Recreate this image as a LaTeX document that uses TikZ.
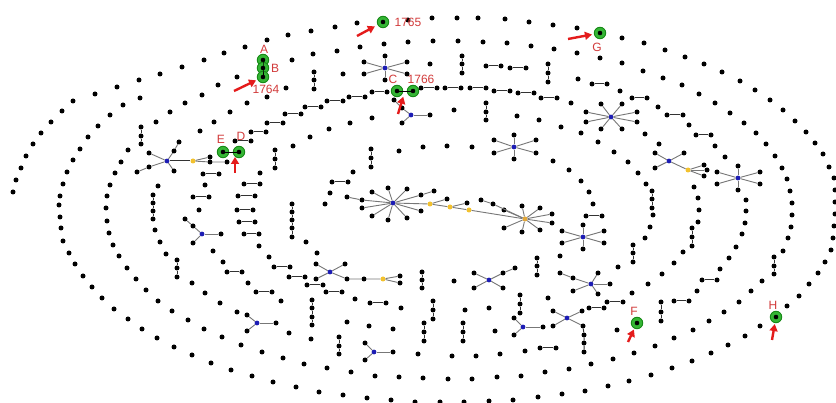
\documentclass[tikz,border=0pt]{standalone}
\usepackage{fontspec}
\setmainfont{Liberation Sans}
\usetikzlibrary{arrows.meta,calc}
\definecolor{hubblue}{HTML}{1C1CB4}
\definecolor{hubyellow}{HTML}{F2C12E}
\definecolor{hubamber}{HTML}{E2A73A}
\definecolor{hlgreen}{HTML}{35B535}
\definecolor{hldark}{HTML}{178A17}
\definecolor{pairgray}{HTML}{333333}
\definecolor{spokegray}{HTML}{777777}
\definecolor{lblred}{HTML}{D23B3B}
\definecolor{arrred}{HTML}{E41B1B}
\begin{document}
\begin{tikzpicture}[x=1pt,y=-1pt,
  dot/.style={circle,fill=black,inner sep=0pt,minimum size=5pt},
  hubb/.style={circle,fill=hubblue,inner sep=0pt,minimum size=4.8pt},
  huby/.style={circle,fill=hubyellow,inner sep=0pt,minimum size=5pt},
  hubo/.style={circle,fill=hubamber,inner sep=0pt,minimum size=5pt},
  hl/.style={circle,fill=hlgreen,draw=hldark,line width=0.9pt,inner sep=0pt,minimum size=11.5pt,
    path picture={\fill[black] (path picture bounding box.center) circle (2.3pt);}},
  pairedge/.style={draw=pairgray,line width=1pt},
  spoke/.style={draw=spokegray,line width=0.9pt},
  lbl/.style={text=lblred,font=\fontsize{12}{12}\selectfont,inner sep=0pt},
  pointer/.style={draw=arrred,line width=2.4pt,-{Triangle[length=7pt,width=8pt]}}
]
\fill[white] (0,0) rectangle (836,403);
\useasboundingbox (0,0) rectangle (836,403);

% ---------- outer spiral turn: isolated vertices ----------
\foreach \x/\y [count=\i] in {13/192,16/180,21/168,26/156,33/144,41/133,51/122,62/111,73/101,
  95/94,117/87,139/80,160/74,182/67,204/60,224/53,245/47,267/40,288/35,311/31,335/27,357/23,
  408/20,432/18,457/18,478/18,505/19,529/22,553/25,577/28,622/38,644/43,665/50,685/57,704/64,
  722/72,740/81,755/90,770/100,783/110,795/121,806/132,815/143,823/154,829/167,834/178,835/190,
  835/202,835/214,834/226,833/238,831/250,825/262,818/273,809/284,799/296,787/306,760/326,
  745/336,728/345,711/353,692/361,672/368,651/375,629/381,608/386,585/391,562/394,538/397,
  513/400,489/401,464/402,440/402,415/402,391/400,367/398,343/395,319/392,296/387,273/382,
  252/376,231/370,211/363,192/355,174/347,157/338,142/329,128/319,114/309,102/298,92/287,
  83/276,75/264,69/253,63/241}
  \node[dot] (ra\i) at (\x,\y) {};

% ---------- second turn ----------
\foreach \x/\y [count=\i] in {61/228,60/217,59/205,60/196,63/184,67/172,73/160,80/149,88/137,
  98/126,110/115,123/105,140/98,292/60,313/54,337/51,360/47,384/44,408/42,433/41,458/41,
  483/42,507/43,531/46,554/49,577/53,600/58,622/63,643/71,663/78,682/85,699/94,715/103,
  730/113,744/123,756/133,766/144,775/156,782/168,787/179,790/191,792/203,792/215,791/227,
  788/238,783/251,762/281,751/291,739/302,724/312,709/321,693/330,674/338,655/346,634/353,
  613/359,591/364,569/369,545/372,521/376,497/377,472/379,448/379,423/378,399/377,375/376,
  351/372,327/368,304/364,283/358,262/352,241/345,222/337,204/329,188/320,172/311,158/301,
  146/290,136/279,127/268,119/256,113/245}
  \node[dot] (rb\i) at (\x,\y) {};

% ---------- inner turns: isolated vertices ----------
\foreach \x/\y [count=\i] in {109/233,107/221,106/208,107/196,110/185,115/173,121/162,128/150,
  156/122,170/112,185/103,202/95,218/85,237/77,200/131,214/122,230/112,247/103,267/97,286/88,
  343/74,430/64,578/79,620/91,658/107,689/125,715/146,725/157,746/200,746/211,745/223,
  742/234,736/247,729/258,720/269,697/291,617/330,452/356,476/356,500/354,525/351,418/354,
  158/186,205/185,199/210,260/173,155/230,160/242,166/254,192/283,205/293,220/303,237/312,
  289/333,311/339,213/251,223/262,248/283,281/301,259/246,269/257,306/242,317/253,355/299,
  401/308,347/322,369/326,393/329,293/146,310/137,329/129,350/123,372/118,454/110,330/193,
  325/204,353/172,399/151,423/147,447/146,472/147,517/116,539/120,561/127,581/133,598/142,
  571/103,645/134,659/144,614/152,628/162,638/173,646/184,653/215,650/227,645/238,618/267,
  694/187,698/198,699/210,698/222,683/252,674/263,662/274,648/284,632/293,553/161,569/170,
  581/181,589/192,593/204,560/256,548/298,454/281,465/310,489/308,495/331}
  \node[dot] (rc\i) at (\x,\y) {};

% ---------- dyads ----------
\foreach \ax/\ay/\bx/\by [count=\i] in {235/141/251/141,251/132/266/132,267/123/283/123,
  285/114/301/114,305/107/321/107,327/101/343/101,349/97/365/97,372/92/387/92,421/88/437/88,
  445/88/461/88,470/88/486/88,494/91/510/91,518/93/534/93,541/98/557/98,486/66/501/66,
  510/68/526/68,592/84/607/84,632/98/647/98,667/115/683/115,696/135/711/135,702/280/717/280,
  674/301/689/301,607/302/623/302,589/308/604/308,540/348/556/348,586/216/602/216,
  203/174/219/174,193/197/209/197,244/184/260/184,238/196/255/196,237/210/253/210,
  239/222/255/222,244/234/259/234,227/272/242/272,256/292/272/292,274/267/290/267,
  289/277/305/277,307/285/323/285,326/292/342/292,370/303/386/303,332/182/348/182}
  {\node[dot] (pa\i) at (\ax,\ay) {};
   \node[dot] (pb\i) at (\bx,\by) {};
   \draw[pairedge] (pa\i) -- (pb\i);}

% ---------- vertical paths of three ----------
\foreach \x/\ya/\yb/\yc [count=\i] in {141/127/136/144,314/72/80/89,462/56/64/73,548/64/73/82,
  486/103/112/120,371/149/158/167,275/150/159/168,177/260/268/277,339/337/346/354,
  422/272/280/288,433/301/310/319,424/323/332/341,463/323/332/341,520/295/304/313,
  537/258/266/275,633/245/253/262,652/191/199/208,692/228/237/246,661/302/312/321,
  774/257/266/274}
  {\node[dot] (ta\i) at (\x,\ya) {};
   \node[dot] (tb\i) at (\x,\yb) {};
   \node[dot] (tc\i) at (\x,\yc) {};
   \draw[pairedge] (ta\i) -- (tb\i) -- (tc\i);}

% ---------- longer vertical paths ----------
\foreach \y [count=\i] in {195,203,211,219} \node[dot] (ka\i) at (153,\y) {};
\draw[pairedge] (ka1) -- (ka2) -- (ka3) -- (ka4);
\foreach \y [count=\i] in {204,212,220,228,237} \node[dot] (kb\i) at (292,\y) {};
\draw[pairedge] (kb1) -- (kb2) -- (kb3) -- (kb4) -- (kb5);
\foreach \y [count=\i] in {300,308,317,325} \node[dot] (kc\i) at (312,\y) {};
\draw[pairedge] (kc1) -- (kc2) -- (kc3) -- (kc4);

% ---------- stars ----------
\node[hubb] (s1) at (385,68) {};
\foreach \x/\y [count=\i] in {385/56,364/62,407/62,364/74,407/74,385/80}
  {\node[dot] (s1-\i) at (\x,\y) {}; \draw[spoke] (s1) -- (s1-\i);}
\node[hubb] (s2) at (611,117) {};
\foreach \x/\y [count=\i] in {586/112,586/122,601/104,622/104,637/112,637/122,601/129,622/129}
  {\node[dot] (s2-\i) at (\x,\y) {}; \draw[spoke] (s2) -- (s2-\i);}
\node[hubb] (s3) at (514,147) {};
\foreach \x/\y [count=\i] in {494/140,536/140,494/153,536/153,514/135,514/159}
  {\node[dot] (s3-\i) at (\x,\y) {}; \draw[spoke] (s3) -- (s3-\i);}
\node[hubb] (s4) at (738,178) {};
\foreach \x/\y [count=\i] in {738/166,717/172,760/172,717/184,760/184,738/190}
  {\node[dot] (s4-\i) at (\x,\y) {}; \draw[spoke] (s4) -- (s4-\i);}
\node[hubb] (s5) at (583,237) {};
\foreach \x/\y [count=\i] in {583/225,562/231,604/231,562/243,604/243,583/249}
  {\node[dot] (s5-\i) at (\x,\y) {}; \draw[spoke] (s5) -- (s5-\i);}

\node[hubb] (s6) at (411,115) {};
\foreach \x/\y [count=\i] in {402/123,430/115,402/108}
  {\node[dot] (s6-\i) at (\x,\y) {}; \draw[spoke] (s6) -- (s6-\i);}
\node[dot] (s6-4) at (394,100) {};
\draw[spoke] (s6-3) -- (s6-4);

\node[hubb] (s7) at (167,161) {};
\foreach \x/\y [count=\i] in {149/153,149/167,174/151,174/171}
  {\node[dot] (s7-\i) at (\x,\y) {}; \draw[spoke] (s7) -- (s7-\i);}
\node[dot] (s7-5) at (137,172) {};
\node[dot] (s7-6) at (179,142) {};
\draw[spoke] (s7-2) -- (s7-5);
\draw[spoke] (s7-3) -- (s7-6);
\node[huby] (y7) at (193,161) {};
\draw[pairedge] (s7) -- (y7);
\node[dot] (y7-1) at (210,157) {};
\node[dot] (y7-2) at (210,162) {};
\node[dot] (y7-3) at (227,162) {};
\draw[spoke] (y7) -- (y7-1);
\draw[spoke] (y7) -- (y7-2) -- (y7-3);

\node[hubb] (s8) at (202,234) {};
\foreach \x/\y [count=\i] in {193/226,193/243,221/234}
  {\node[dot] (s8-\i) at (\x,\y) {}; \draw[spoke] (s8) -- (s8-\i);}
\node[dot] (s8-4) at (185,219) {};
\draw[spoke] (s8-1) -- (s8-4);

\node[hubb] (s9) at (257,323) {};
\foreach \x/\y [count=\i] in {247/315,247/331,276/323}
  {\node[dot] (s9-\i) at (\x,\y) {}; \draw[spoke] (s9) -- (s9-\i);}
\node[hubb] (s10) at (374,352) {};
\foreach \x/\y [count=\i] in {365/343,365/360,393/352}
  {\node[dot] (s10-\i) at (\x,\y) {}; \draw[spoke] (s10) -- (s10-\i);}

\node[hubb] (s11) at (330,272) {};
\foreach \x/\y [count=\i] in {316/264,345/264,316/279}
  {\node[dot] (s11-\i) at (\x,\y) {}; \draw[spoke] (s11) -- (s11-\i);}
\node[dot] (s11-4) at (347,279) {};
\node[dot] (s11-5) at (364,279) {};
\node[huby] (y11) at (383,279) {};
\node[dot] (y11-1) at (400,276) {};
\node[dot] (y11-2) at (400,283) {};
\draw[spoke] (s11) -- (s11-4) -- (s11-5) -- (y11);
\draw[spoke] (y11) -- (y11-1);
\draw[spoke] (y11) -- (y11-2);

\node[hubb] (s12) at (489,280) {};
\foreach \x/\y [count=\i] in {474/273,474/288,503/273,503/288}
  {\node[dot] (s12-\i) at (\x,\y) {}; \draw[spoke] (s12) -- (s12-\i);}
\node[dot] (s12-5) at (515,268) {};
\draw[spoke] (s12-3) -- (s12-5);

\node[hubb] (s13) at (591,284) {};
\foreach \x/\y [count=\i] in {573/278,598/273,573/291,598/294,610/284}
  {\node[dot] (s13-\i) at (\x,\y) {}; \draw[spoke] (s13) -- (s13-\i);}
\node[dot] (s13-6) at (560,273) {};
\draw[spoke] (s13-1) -- (s13-6);

\node[hubb] (s14) at (567,318) {};
\foreach \x/\y [count=\i] in {553/311,553/326,582/311,583/326}
  {\node[dot] (s14-\i) at (\x,\y) {}; \draw[spoke] (s14) -- (s14-\i);}
\node[dot] (s14-5) at (584,335) {};
\node[dot] (s14-6) at (584,343) {};
\node[dot] (s14-7) at (584,352) {};
\draw[pairedge] (s14-4) -- (s14-5) -- (s14-6) -- (s14-7);

\node[hubb] (s15) at (523,327) {};
\foreach \x/\y [count=\i] in {514/318,514/335,543/327}
  {\node[dot] (s15-\i) at (\x,\y) {}; \draw[spoke] (s15) -- (s15-\i);}

\node[hubb] (s16) at (669,161) {};
\foreach \x/\y [count=\i] in {655/153,684/153,655/168}
  {\node[dot] (s16-\i) at (\x,\y) {}; \draw[spoke] (s16) -- (s16-\i);}
\node[huby] (y16) at (688,170) {};
\draw[spoke] (s16) -- (y16);
\foreach \x/\y [count=\i] in {704/165,707/170,704/176}
  {\node[dot] (y16-\i) at (\x,\y) {}; \draw[spoke] (y16) -- (y16-\i);}

% ---------- the large central component ----------
\node[hubb] (bc) at (393,203) {};
\foreach \x/\y [count=\i] in {372/192,388/188,407/189,421/195,362/200,362/208,372/216,388/220,407/218,421/211}
  {\node[dot] (bc-\i) at (\x,\y) {}; \draw[spoke] (bc) -- (bc-\i);}
\node[dot] (bc-11) at (434,191) {};
\node[dot] (bc-12) at (347,197) {};
\draw[spoke] (bc-4) -- (bc-11);
\draw[spoke] (bc-5) -- (bc-12);
\node[huby] (yc1) at (430,204) {};
\node[huby] (yc2) at (450,207) {};
\node[huby] (yc3) at (469,210) {};
\node[hubo] (oc) at (525,219) {};
\node[dot] (yc1-1) at (447,199) {};
\node[dot] (yc2-1) at (467,203) {};
\draw[spoke] (bc) -- (yc1) -- (yc2) -- (yc3) -- (oc);
\draw[spoke] (yc1) -- (yc1-1);
\draw[spoke] (yc2) -- (yc2-1);
\foreach \x/\y [count=\i] in {504/210,522/206,540/208,552/214,552/223,540/230,522/232,504/228}
  {\node[dot] (oc-\i) at (\x,\y) {}; \draw[spoke] (oc) -- (oc-\i);}
\node[dot] (oc-9) at (481,200) {};
\node[dot] (oc-10) at (493,204) {};
\draw[spoke] (oc-9) -- (oc-10) -- (oc);

% ---------- highlighted vertices ----------
\node[hl] (nA) at (263,60) {};
\node[hl] (nB) at (263,68) {};
\node[hl] (n1764) at (263,77) {};
\draw[line width=0.9pt] (nA.center) -- (nB.center) -- (n1764.center);
\node[hl] (n1765) at (383,22) {};
\node[hl] (nC) at (397,91) {};
\node[hl] (n1766) at (413,91) {};
\draw[line width=0.9pt] (nC.center) -- (n1766.center);
\node[hl] (nE) at (223,152) {};
\node[hl] (nD) at (239,152) {};
\draw[line width=0.9pt] (nE.center) -- (nD.center);
\node[hl] (nF) at (637,323) {};
\node[hl] (nG) at (600,33) {};
\node[hl] (nH) at (776,317) {};

% ---------- labels ----------
\node[lbl] (tA) at (264,49) {A};
\node[lbl] (tB) at (275,68) {B};
\node[lbl] (t1764) at (266,89) {1764};
\node[lbl] (t1765) at (408,22) {1765};
\node[lbl] (tC) at (393,79) {C};
\node[lbl] (t1766) at (421,79) {1766};
\node[lbl] (tE) at (221,139) {E};
\node[lbl] (tD) at (241,136) {D};
\node[lbl] (tF) at (634,311) {F};
\node[lbl] (tG) at (597,47) {G};
\node[lbl] (tH) at (773,305) {H};

% ---------- pointers ----------
\coordinate (pt1764) at (234,91);
\coordinate (pt1765) at (357,36);
\coordinate (ptG) at (568,39);
\coordinate (ptC) at (398,114);
\coordinate (ptD) at (235,173);
\coordinate (ptF) at (628,342);
\coordinate (ptH) at (772,340);
\coordinate (mCD) at ($(nC)!0.5!(n1766)$);
\coordinate (mED) at ($(nE)!0.75!(nD)$);
\draw[pointer,shorten >=1.5pt] (pt1764) -- (n1764);
\draw[pointer,shorten >=3pt] (pt1765) -- (n1765);
\draw[pointer,shorten >=2pt] (ptG) -- (nG);
\draw[pointer,shorten >=6pt] (ptC) -- (mCD);
\draw[pointer,shorten >=5pt] (ptD) -- (mED);
\draw[pointer,shorten >=1pt] (ptF) -- (nF);
\draw[pointer,shorten >=1pt] (ptH) -- (nH);
\end{tikzpicture}
\end{document}
